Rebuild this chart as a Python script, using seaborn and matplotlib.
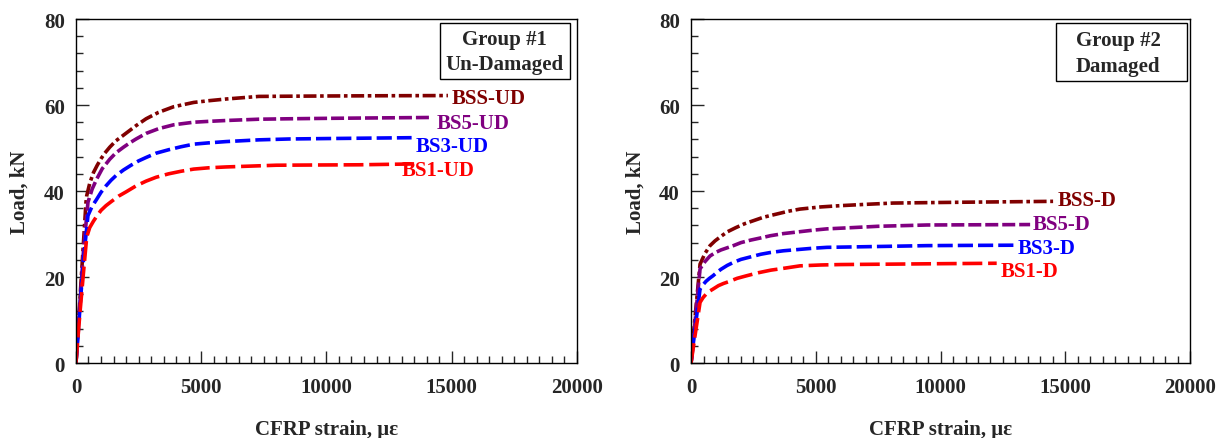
import numpy as np
import pandas as pd
import matplotlib
matplotlib.use("Agg")
import matplotlib.pyplot as plt
import seaborn as sns
from matplotlib.ticker import MultipleLocator
from matplotlib.patches import Rectangle

# ---- Group #1 (un-damaged) load–strain curves ----
bs1_ud_strain = [0, 150, 300, 430, 550, 700, 850, 1000, 1200, 1400, 1700, 2000, 2400, 2800, 3200,
                 3700, 4200, 4700, 5300, 6000, 7000, 8000, 9500, 11300, 13500]
bs1_ud_load = [0, 11, 21, 29.3, 31.5, 33.0, 34.3, 35.5, 36.6, 37.5, 38.8, 39.8, 41.2, 42.3, 43.2,
               44.0, 44.6, 45.1, 45.4, 45.6, 45.8, 46.0, 46.05, 46.1, 46.3]

bs3_ud_strain = [0, 150, 300, 480, 650, 830, 1000, 1200, 1400, 1600, 1900, 2200, 2500, 2800, 3200,
                 3700, 4200, 4700, 5300, 6000, 7300, 8500, 10000, 11700, 13400]
bs3_ud_load = [0, 12, 24, 34.3, 36.5, 38.1, 39.7, 41.2, 42.5, 43.6, 44.9, 46.0, 47.0, 47.8, 48.8,
               49.6, 50.3, 50.9, 51.2, 51.5, 51.9, 52.1, 52.2, 52.3, 52.4]

bs5_ud_strain = [0, 150, 300, 480, 650, 830, 1050, 1350, 1600, 1900, 2150, 2400, 2800, 3300, 3900,
                 4700, 5300, 6000, 7300, 8500, 10000, 12000, 14100]
bs5_ud_load = [0, 13, 26, 37.4, 40.5, 42.8, 45.2, 47.4, 48.9, 50.2, 51.2, 52.1, 53.4, 54.5, 55.4,
               56.0, 56.2, 56.4, 56.7, 56.8, 56.9, 57.0, 57.1]

bss_ud_strain = [0, 150, 300, 400, 430, 550, 700, 850, 1000, 1150, 1350, 1600, 1900, 2150, 2400,
                 2800, 3300, 3900, 4700, 5300, 6000, 7300, 8500, 10000, 12000, 14850]
bss_ud_load = [0, 14, 28, 37.4, 38.9, 41.8, 44.3, 46.0, 47.5, 48.8, 50.2, 51.7, 53.0, 54.1, 55.2,
               56.8, 58.3, 59.6, 60.6, 61.0, 61.4, 62.0, 62.05, 62.1, 62.15, 62.2]

# ---- Group #2 (damaged) load–strain curves ----
bs1_d_strain = [0, 150, 361, 480, 600, 740, 882, 1100, 1300, 1500, 1850, 2232, 2700, 3200, 3800,
                4369, 5200, 6000, 7000, 8096, 10000, 12250]
bs1_d_load = [0, 6, 14.1, 15.2, 16.0, 16.7, 17.2, 18.0, 18.5, 18.9, 19.7, 20.3, 21.0, 21.6, 22.1,
              22.6, 22.8, 22.9, 22.95, 23.0, 23.1, 23.2]

bs3_d_strain = [0, 150, 361, 480, 600, 740, 882, 1040, 1200, 1450, 1697, 2000, 2400, 2800, 3180,
                3700, 4300, 4900, 5450, 6500, 7500, 8500, 9460, 11000, 13040]
bs3_d_load = [0, 7.5, 17.2, 18.2, 19.0, 19.7, 20.3, 21.1, 21.8, 22.7, 23.4, 24.1, 24.7, 25.3, 25.7,
              26.1, 26.4, 26.7, 26.9, 27.0, 27.1, 27.2, 27.3, 27.35, 27.4]

bs5_d_strain = [0, 150, 361, 560, 762, 980, 1200, 1450, 1697, 2000, 2400, 2800, 3180, 3700, 4300,
                4900, 5450, 6500, 7500, 8500, 9460, 11500, 13590]
bs5_d_load = [0, 9, 21.9, 23.6, 24.9, 25.7, 26.3, 26.8, 27.3, 28.0, 28.6, 29.1, 29.6, 30.1, 30.5,
              30.9, 31.2, 31.5, 31.8, 31.95, 32.1, 32.15, 32.2]

bss_d_strain = [0, 150, 361, 560, 762, 960, 1162, 1450, 1800, 2150, 2500, 2900, 3400, 3900, 4369,
                5200, 6000, 7000, 8096, 9500, 11000, 12800, 14510]
bss_d_load = [0, 10, 23.0, 25.5, 27.3, 28.4, 29.3, 30.5, 31.5, 32.4, 33.1, 33.9, 34.6, 35.3, 35.8,
              36.3, 36.6, 36.9, 37.2, 37.3, 37.4, 37.5, 37.6]

specimens = ["BS1", "BS3", "BS5", "BSS"]
group_titles = [("Group #1", "Un-Damaged"), ("Group #2", "Damaged")]
suffixes = ["-UD", "-D"]

x_ticks = [0, 5000, 10000, 15000, 20000]
y_ticks = [0, 20, 40, 60, 80]

colors = {"BS1": "#ff0000", "BS3": "#0000ff", "BS5": "#800080", "BSS": "#800000"}
dash_styles = {"BS1": (5.5, 1.6), "BS3": (4.2, 1.4), "BS5": (3.6, 1.1), "BSS": (3.6, 1.0, 1.0, 1.0)}

# label anchor (left edge x, centre y) for each series name
label_pos = [
    {"BS1": (13000, 45.0), "BS3": (13550, 50.5), "BS5": (14400, 55.8), "BSS": (15000, 61.6)},
    {"BS1": (12400, 21.4), "BS3": (13100, 26.8), "BS5": (13700, 32.3), "BSS": (14700, 37.9)},
]

# group title box extents in axes fractions: (x0, x1, y0, y1)
box_extent = [(0.7265, 0.986, 0.8256, 0.988), (0.7315, 0.994, 0.820, 0.988)]

groups = [
    {"BS1": (bs1_ud_strain, bs1_ud_load), "BS3": (bs3_ud_strain, bs3_ud_load),
     "BS5": (bs5_ud_strain, bs5_ud_load), "BSS": (bss_ud_strain, bss_ud_load)},
    {"BS1": (bs1_d_strain, bs1_d_load), "BS3": (bs3_d_strain, bs3_d_load),
     "BS5": (bs5_d_strain, bs5_d_load), "BSS": (bss_d_strain, bss_d_load)},
]

sns.set_style("white")
plt.rcParams["font.family"] = ["Liberation Serif", "DejaVu Serif"]
plt.rcParams["font.weight"] = "bold"

fig = plt.figure(figsize=(12.27, 4.39), dpi=100)
axes = [fig.add_axes([0.0619, 0.1708, 0.4083, 0.7836]),
        fig.add_axes([0.5632, 0.1708, 0.4067, 0.7836])]

for ax, data, title, suf, lpos, bx in zip(axes, groups, group_titles, suffixes, label_pos, box_extent):
    frames = []
    for name in specimens:
        s, l = data[name]
        frames.append(pd.DataFrame({"strain": s, "load": l, "specimen": name}))
    df = pd.concat(frames, ignore_index=True)
    sns.lineplot(data=df, x="strain", y="load", hue="specimen", style="specimen",
                 palette=colors, dashes=dash_styles, hue_order=specimens[::-1],
                 style_order=specimens[::-1], sort=False, estimator=None,
                 linewidth=2.6, legend=False, ax=ax)

    for name in specimens:
        x, y = lpos[name]
        ax.text(x, y, name + suf, color=colors[name], fontsize=15, fontweight="bold",
                ha="left", va="center")

    x0, x1, y0, y1 = bx
    ax.add_patch(Rectangle((x0, y0), x1 - x0, y1 - y0, transform=ax.transAxes,
                           facecolor="white", edgecolor="black", linewidth=1.0, zorder=5))
    xc = 0.856
    h = y1 - y0
    ax.text(xc, y1 - 0.29 * h, title[0], transform=ax.transAxes, ha="center", va="center",
            fontsize=15, fontweight="bold", zorder=6)
    ax.text(xc, y1 - 0.74 * h, title[1], transform=ax.transAxes, ha="center", va="center",
            fontsize=15, fontweight="bold", zorder=6)

    ax.set_xlim(0, 20000)
    ax.set_ylim(0, 80)
    ax.set_xticks(x_ticks)
    ax.set_yticks(y_ticks)
    ax.xaxis.set_minor_locator(MultipleLocator(500))
    ax.yaxis.set_minor_locator(MultipleLocator(4))
    ax.tick_params(axis="both", which="major", direction="in", length=9, width=1,
                   labelsize=15, top=False, right=False, left=True, bottom=True)
    ax.tick_params(axis="both", which="minor", direction="in", length=5, width=1,
                   top=False, right=False, left=True, bottom=True)
    ax.tick_params(axis="x", which="major", pad=10)
    ax.tick_params(axis="y", which="major", pad=8)
    for lab in ax.get_xticklabels() + ax.get_yticklabels():
        lab.set_fontweight("bold")
    for sp in ax.spines.values():
        sp.set_visible(True)
        sp.set_color("black")
        sp.set_linewidth(1.0)
    ax.set_xlabel("CFRP strain, \u03bc\u03b5", fontsize=15, fontweight="bold", labelpad=16)
    ax.set_ylabel("Load, kN", fontsize=15, fontweight="bold", labelpad=10)

fig.savefig("out.png", dpi=100)
